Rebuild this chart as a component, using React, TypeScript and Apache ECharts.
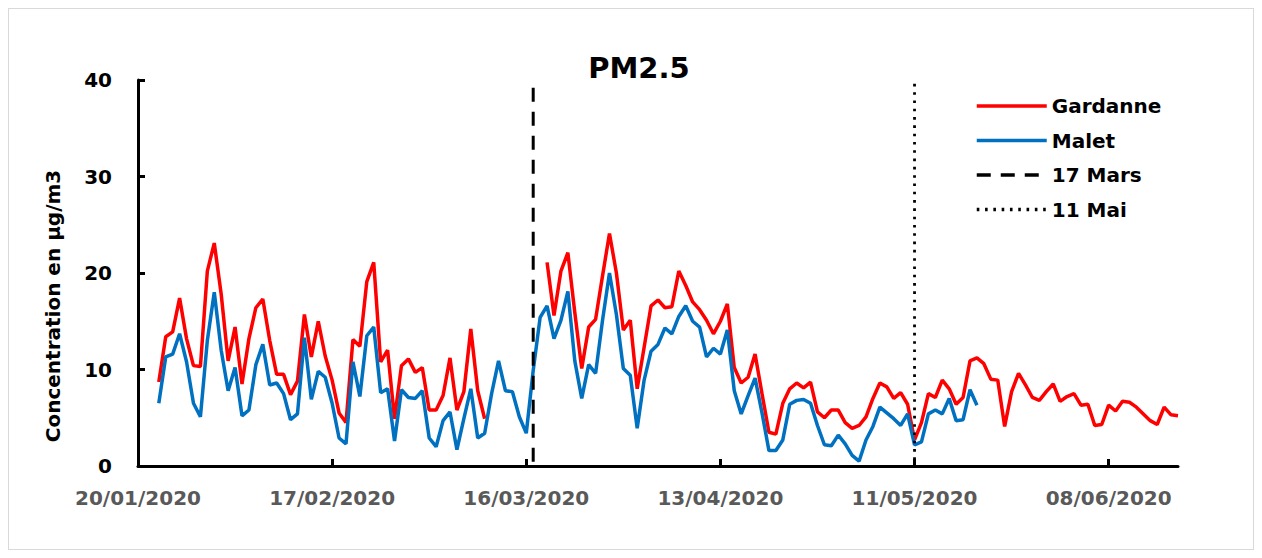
import React, { useEffect, useRef } from 'react';
import * as echarts from 'echarts';

// ---- Data ----
const startDate = { year: 2020, month: 0, day: 20 };
const dayCount = 151; // 20/01/2020 -> 18/06/2020
const tickLabels = ['20/01/2020', '17/02/2020', '16/03/2020', '13/04/2020', '11/05/2020', '08/06/2020'];
const tickStep = 28;

const gardanneStartA = 3;
const gardanneA = [
  8.7, 13.4, 13.9, 17.4, 13.2, 10.4, 10.3, 20.2, 23.1, 17.8,
  10.9, 14.4, 8.5, 13.2, 16.4, 17.3, 13.0, 9.5, 9.5, 7.4,
  8.8, 15.7, 11.3, 15.0, 11.4, 8.9, 5.5, 4.5, 13.1, 12.4,
  19.1, 21.1, 10.8, 12.0, 4.9, 10.4, 11.1, 9.7, 10.2, 5.8,
  5.8, 7.3, 11.2, 5.8, 7.7, 14.2, 7.8, 4.9,
];
const gardanneStartB = 59;
const gardanneB = [
  21.1, 15.6, 20.2, 22.1, 15.9, 10.1, 14.4, 15.2, 19.7, 24.1,
  20.0, 14.1, 15.1, 8.0, 12.3, 16.6, 17.2, 16.4, 16.5, 20.2,
  18.7, 17.0, 16.2, 15.1, 13.7, 15.0, 16.8, 10.2, 8.6, 9.2,
  11.6, 7.5, 3.5, 3.3, 6.5, 8.0, 8.6, 8.1, 8.7, 5.6,
  5.0, 5.8, 5.8, 4.5, 3.9, 4.2, 5.1, 7.0, 8.6, 8.2,
  7.0, 7.6, 6.4, 2.7, 4.5, 7.5, 7.1, 8.9, 8.0, 6.4,
  7.1, 10.9, 11.2, 10.6, 9.0, 8.9, 4.1, 7.7, 9.6, 8.4,
  7.1, 6.8, 7.7, 8.5, 6.7, 7.2, 7.5, 6.3, 6.4, 4.2,
  4.3, 6.3, 5.7, 6.7, 6.6, 6.1, 5.4, 4.7, 4.3, 6.1,
  5.3, 5.2,
];

const maletStart = 3;
const malet = [
  6.5, 11.3, 11.6, 13.7, 10.8, 6.5, 5.1, 13.0, 18.0, 12.0,
  7.8, 10.2, 5.2, 5.8, 10.5, 12.6, 8.4, 8.6, 7.5, 4.8,
  5.4, 13.3, 6.9, 9.8, 9.2, 6.5, 2.9, 2.3, 10.8, 7.2,
  13.5, 14.4, 7.6, 8.0, 2.6, 7.9, 7.1, 7.0, 7.8, 2.9,
  2.0, 4.7, 5.6, 1.7, 4.9, 8.0, 2.9, 3.4, 7.5, 10.9,
  7.8, 7.7, 5.1, 3.4, 9.9, 15.4, 16.6, 13.2, 15.1, 18.1,
  10.9, 7.0, 10.5, 9.6, 15.1, 20.0, 15.7, 10.1, 9.4, 3.9,
  8.9, 11.9, 12.6, 14.3, 13.7, 15.5, 16.6, 15.0, 14.4, 11.3,
  12.2, 11.6, 14.1, 7.8, 5.4, 7.3, 9.1, 5.5, 1.6, 1.6,
  2.7, 6.4, 6.8, 6.9, 6.5, 4.2, 2.2, 2.1, 3.2, 2.3,
  1.1, 0.5, 2.7, 4.1, 6.1, 5.5, 4.9, 4.2, 5.4, 2.2,
  2.5, 5.4, 5.8, 5.4, 7.0, 4.7, 4.8, 7.9, 6.3,
];

const marsDay = 57; // 17 Mars
const marsSpan = [39.2, -0.6];
const maiDay = 112; // 11 Mai
const maiSpan = [39.6, 0];

const yMin = 0;
const yMax = 40;
const yStep = 10;

// ---- helpers ----
const pad = (n: number) => (n < 10 ? '0' + n : '' + n);
const categories: string[] = [];
for (let i = 0; i < dayCount; i++) {
  const d = new Date(startDate.year, startDate.month, startDate.day + i);
  categories.push(pad(d.getDate()) + '/' + pad(d.getMonth() + 1) + '/' + d.getFullYear());
}
function place(parts: { start: number; values: number[] }[]) {
  const out: (number | null)[] = new Array(dayCount).fill(null);
  parts.forEach((p) => p.values.forEach((v, i) => (out[p.start + i] = v)));
  return out;
}

const FONT = '"DejaVu Sans", sans-serif';

export default function App() {
  const ref = useRef<HTMLDivElement>(null);
  useEffect(() => {
    if (!ref.current) return;
    const chart = echarts.init(ref.current, undefined, { renderer: 'svg' });
    const option: any = {
      animation: false,
      backgroundColor: '#ffffff',
      grid: { left: 129, top: 71, right: 75, bottom: 83, containLabel: false },
      graphic: [
        {
          type: 'text',
          x: 630,
          y: 59,
          style: {
            text: 'PM2.5',
            fill: '#000',
            fontFamily: FONT,
            fontWeight: 'bold',
            fontSize: 29,
            align: 'center',
            verticalAlign: 'middle',
          },
        },
        {
          type: 'text',
          x: 44,
          y: 297,
          rotation: Math.PI / 2,
          style: {
            text: 'Concentration en µg/m3',
            fill: '#000',
            fontFamily: FONT,
            fontWeight: 'bold',
            fontSize: 20,
            align: 'center',
            verticalAlign: 'middle',
          },
        },
      ],
      legend: {
        orient: 'vertical',
        left: 966,
        top: 87,
        padding: 0,
        itemWidth: 70,
        itemHeight: 20,
        itemGap: 14.5,
        itemStyle: { opacity: 0 },
        lineStyle: { width: 3.5 },
        textStyle: { color: '#000', fontFamily: FONT, fontWeight: 'bold', fontSize: 20 },
        data: ['Gardanne', 'Malet', '17 Mars', '11 Mai'],
      },
      xAxis: {
        type: 'category',
        data: categories,
        boundaryGap: false,
        axisLine: { lineStyle: { color: '#000', width: 3 } },
        axisTick: { show: true, inside: true, length: 7, interval: tickStep - 1, lineStyle: { color: '#000', width: 3 } },
        axisLabel: {
          interval: tickStep - 1,
          formatter: (_v: string, i: number) => (i % tickStep === 0 ? tickLabels[i / tickStep] ?? '' : ''),
          color: '#595959',
          fontFamily: FONT,
          fontWeight: 'bold',
          fontSize: 20,
          margin: 22,
        },
        splitLine: { show: false },
      },
      yAxis: {
        type: 'value',
        min: yMin,
        max: yMax,
        interval: yStep,
        axisLine: { show: true, lineStyle: { color: '#000', width: 3 } },
        axisTick: { show: true, inside: true, length: 7, lineStyle: { color: '#000', width: 3 } },
        axisLabel: { color: '#000', fontFamily: FONT, fontWeight: 'bold', fontSize: 20, margin: 26 },
        splitLine: { show: false },
      },
      series: [
        {
          name: 'Gardanne',
          type: 'line',
          data: place([
            { start: gardanneStartA, values: gardanneA },
            { start: gardanneStartB, values: gardanneB },
          ]),
          symbol: 'none',
          color: '#ff0000',
          lineStyle: { color: '#ff0000', width: 3.5 },
        },
        {
          name: 'Malet',
          type: 'line',
          data: place([{ start: maletStart, values: malet }]),
          symbol: 'none',
          color: '#0070c0',
          lineStyle: { color: '#0070c0', width: 3.5 },
        },
        {
          name: '17 Mars',
          type: 'line',
          data: [[marsDay, marsSpan[0]], [marsDay, marsSpan[1]]],
          symbol: 'none',
          clip: false,
          color: '#000',
          lineStyle: { color: '#000', width: 3, type: [14, 10] },
        },
        {
          name: '11 Mai',
          type: 'line',
          data: [[maiDay, maiSpan[0]], [maiDay, maiSpan[1]]],
          symbol: 'none',
          clip: false,
          color: '#000',
          lineStyle: { color: '#000', width: 2.8, type: [2.6, 5.7] },
        },
      ],
    };
    chart.setOption(option);
    return () => chart.dispose();
  }, []);
  return (
    <div style={{ width: 1244, height: 540, border: '1px solid #d9d9d9' }}>
      <div ref={ref} style={{ width: 1244, height: 540 }} />
    </div>
  );
}
